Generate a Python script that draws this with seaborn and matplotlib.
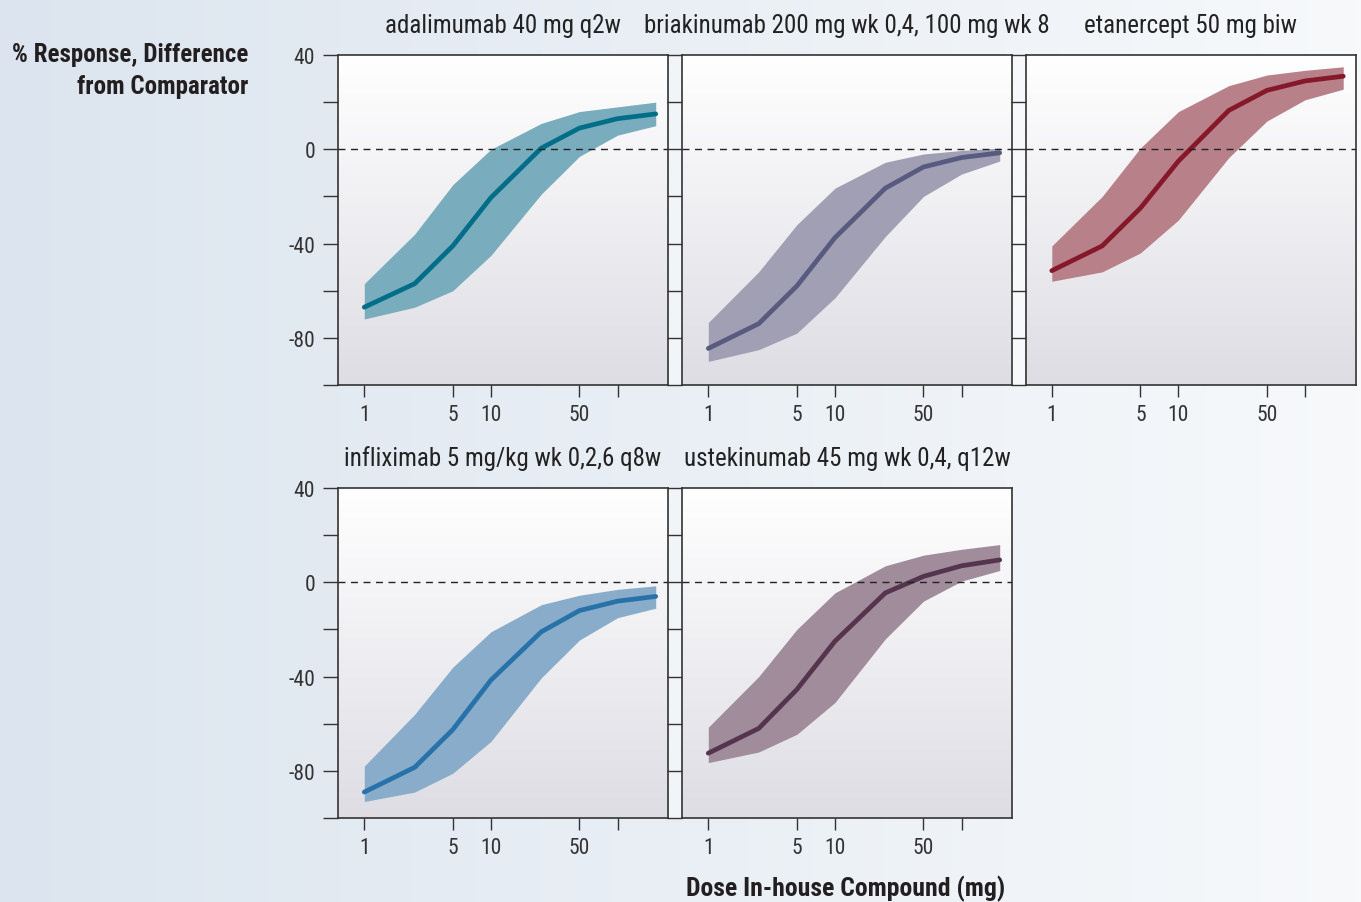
import numpy as np
import matplotlib
matplotlib.use('Agg')
import matplotlib.pyplot as plt
from matplotlib import font_manager
from matplotlib.colors import LinearSegmentedColormap
from matplotlib.patches import Rectangle
from matplotlib.ticker import NullLocator
import seaborn as sns

# dose grid (mg), log scale on the x axis
doses = [1, 2.5, 5, 10, 25, 50, 100, 200]

titles = ['adalimumab 40 mg q2w',
          'briakinumab 200 mg wk 0,4, 100 mg wk 8',
          'etanercept 50 mg biw',
          'infliximab 5 mg/kg wk 0,2,6 q8w',
          'ustekinumab 45 mg wk 0,4, q12w']

# median difference and band (lower / upper) per comparator
ada_mid = [-67, -57, -41, -20.5, 0.5, 9, 13, 15]
ada_lo = [-72, -67, -60, -45, -19, -3, 6, 10]
ada_hi = [-57, -36, -15, 0, 11, 16, 18, 20]

bria_mid = [-84.5, -74, -58, -37.5, -16.5, -7.5, -3.5, -1.5]
bria_lo = [-90, -85, -78, -63, -37, -20, -10.5, -5]
bria_hi = [-73.5, -52, -32, -16.5, -5.5, -2, -0.5, 0.5]

eta_mid = [-51.5, -41, -25, -5, 16.5, 25, 29, 31]
eta_lo = [-56, -52, -44, -30, -3.5, 12, 21, 25.5]
eta_hi = [-41, -20, 0.5, 16, 27, 31.5, 33.5, 35]

inf_mid = [-89, -78.5, -62.5, -41.5, -21, -12, -8, -6]
inf_lo = [-93, -89, -81, -67.5, -40.5, -24.5, -15, -11]
inf_hi = [-78, -56, -36, -21, -9.5, -5.5, -3, -1.5]

ust_mid = [-72.5, -62, -45.5, -25, -4.5, 2.5, 7, 9.5]
ust_lo = [-76.5, -72, -64.5, -51, -24, -8, 0.5, 5]
ust_hi = [-61.5, -40, -20, -4.5, 7, 11.5, 14, 16]

mids = [ada_mid, bria_mid, eta_mid, inf_mid, ust_mid]
los = [ada_lo, bria_lo, eta_lo, inf_lo, ust_lo]
his = [ada_hi, bria_hi, eta_hi, inf_hi, ust_hi]

line_colors = ['#006e88', '#585a80', '#85182a', '#2872aa', '#55344e']
band_colors = ['#79adbd', '#a09fb3', '#b8818a', '#88acc9', '#a08c9a']

xticks = [1, 5, 10, 50, 100]
xticklabels = ['1', '5', '10', '50', '']
yticks = list(range(-100, 41, 20))

sns.set_style('white')


def pick_font(names):
    avail = {f.name for f in font_manager.fontManager.ttflist}
    for n in names:
        if n in avail:
            return n
    return 'DejaVu Sans'


font = pick_font(['Liberation Sans Narrow', 'Roboto Condensed', 'Open Sans Condensed', 'Roboto'])
plt.rcParams['font.family'] = [font, 'DejaVu Sans']

W, H = 1361, 903
fig = plt.figure(figsize=(W / 100, H / 100), dpi=100)

# background: light blue gradient, panels with white -> grey gradient
bg = fig.add_axes([0, 0, 1, 1], zorder=-10)
bg.axis('off')
bg_cmap = LinearSegmentedColormap.from_list('bg', ['#dce5ef', '#f7f9fb'])
bg.imshow(np.linspace(0, 1, 256)[None, :], extent=[0, W, H, 0], cmap=bg_cmap, aspect='auto')

panel_cmap = LinearSegmentedColormap.from_list('panel', ['#ffffff', '#dedde4'])
pw, ph = 330, 330
lefts = [338, 682, 1025.5, 338, 682]
tops = [56, 56, 56, 489, 489]

for i in range(5):
    l, t = lefts[i], tops[i]
    bg.imshow(np.linspace(0, 1, 256)[:, None], extent=[l, l + pw, t + ph, t],
              cmap=panel_cmap, aspect='auto')
    if i in (1, 2, 4):
        bg.add_patch(Rectangle((l - 14, t), 14, ph, color='white', alpha=0.45, lw=0))

bg.set_xlim(0, W)
bg.set_ylim(H, 0)

ink = '#333333'
for i in range(5):
    l, t = lefts[i], tops[i]
    ax = fig.add_axes([l / W, 1 - (t + ph) / H, pw / W, ph / H], facecolor='none')
    ax.set_xscale('log')
    ax.fill_between(doses, los[i], his[i], color=band_colors[i], lw=0, zorder=2)
    sns.lineplot(x=doses, y=mids[i], ax=ax, color=line_colors[i], lw=3.4, zorder=3)
    ax.axhline(0, color='#222222', lw=1, ls=(0, (5, 4)), zorder=4)

    ax.set_xlim(0.62, 250)
    ax.set_ylim(-100, 40)
    ax.set_xticks(xticks)
    ax.set_xticklabels(xticklabels)
    ax.xaxis.set_minor_locator(NullLocator())
    ax.set_yticks(yticks)
    ax.set_yticklabels(['' if v % 40 else str(v) for v in yticks])
    ax.tick_params(axis='both', direction='out', width=1, colors=ink,
                   labelsize=15.5, labelcolor='#333333', bottom=True, left=True)
    ax.tick_params(axis='y', length=10.5, pad=6, labelleft=(l < 400))
    ax.tick_params(axis='x', length=8.5, pad=5)
    for s in ax.spines.values():
        s.set_color(ink)
        s.set_linewidth(1.2)
    ax.set_xlabel('')
    ax.set_ylabel('')
    ax.text(0.5, 1 + 30 / ph, titles[i], transform=ax.transAxes,
            ha='center', va='center', fontsize=18, color='#222222')

fig.text(248 / W, 1 - 71 / H, '% Response, Difference\nfrom Comparator',
         ha='right', va='center', fontsize=18, fontweight='bold', color='#231f20',
         linespacing=1.45)
fig.text(846 / W, 1 - 889 / H, 'Dose In-house Compound (mg)',
         ha='center', va='center', fontsize=18.5, fontweight='bold', color='#231f20')

fig.savefig('out.png', dpi=100)
